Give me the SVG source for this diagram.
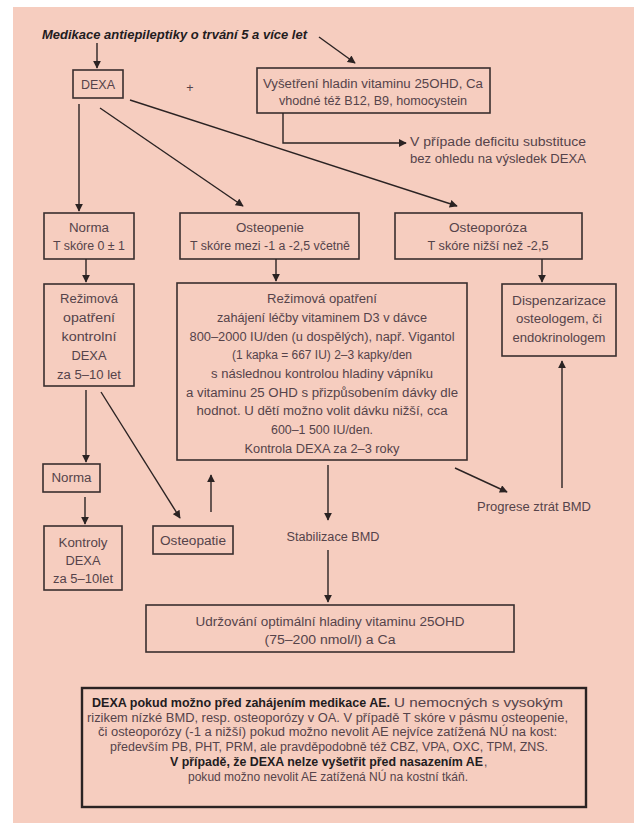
<svg xmlns="http://www.w3.org/2000/svg" width="634" height="823" viewBox="0 0 634 823">
<defs>
<marker id="ah" viewBox="0 0 10 10" refX="9" refY="5" markerWidth="8.5" markerHeight="8" markerUnits="userSpaceOnUse" orient="auto">
<path d="M0,0 L10,5 L0,10 z" fill="#2b2323"/>
</marker>
<style>
.box{fill:none;stroke:#3a2f2f;stroke-width:1.6}
.t{font-family:"Liberation Sans",Arial,sans-serif;font-size:12.5px;fill:#55434a;text-anchor:middle}
.b{font-family:"Liberation Sans",Arial,sans-serif;font-size:12px;fill:#55434a}
.bb{font-family:"Liberation Sans",Arial,sans-serif;font-size:12px;fill:#231c1e;font-weight:bold}
.c{fill:none;stroke:#2b2323;stroke-width:1.4;marker-end:url(#ah)}
</style>
</defs>
<rect width="634" height="823" fill="#ffffff"/>
<rect x="13" y="7" width="621" height="816" fill="#f6cdbf"/>

<g id="title">
<text x="42" y="39" font-family="Liberation Sans,Arial,sans-serif" font-size="13.5" font-weight="bold" font-style="italic" fill="#231c1e" textLength="265" lengthAdjust="spacingAndGlyphs">Medikace antiepileptiky o trvání 5 a více let</text>
</g>

<g id="dexa">
<rect class="box" x="73" y="70" width="50" height="28"/>
<text class="t" x="98" y="89" textLength="34" lengthAdjust="spacingAndGlyphs">DEXA</text>
</g>
<g id="plus"><text class="t" x="190" y="92" font-size="11">+</text></g>

<g id="vitamin">
<rect class="box" x="257" y="68" width="233" height="45"/>
<text class="t" x="373" y="88" textLength="220" lengthAdjust="spacingAndGlyphs">Vyšetření hladin vitaminu 25OHD, Ca</text>
<text class="t" x="373" y="105" textLength="188" lengthAdjust="spacingAndGlyphs">vhodné též B12, B9, homocystein</text>
</g>

<g id="deficit">
<text class="b" x="410" y="146" textLength="176" lengthAdjust="spacingAndGlyphs">V případe deficitu substituce</text>
<text class="b" x="410" y="163" textLength="176" lengthAdjust="spacingAndGlyphs">bez ohledu na výsledek DEXA</text>
</g>

<g id="norma">
<rect class="box" x="44" y="213" width="90" height="46"/>
<text class="t" x="89" y="232" textLength="40" lengthAdjust="spacingAndGlyphs">Norma</text>
<text class="t" x="89" y="250" textLength="72" lengthAdjust="spacingAndGlyphs">T skóre 0 ± 1</text>
</g>

<g id="osteopenie">
<rect class="box" x="180" y="213" width="179" height="46"/>
<text class="t" x="270" y="232" textLength="68" lengthAdjust="spacingAndGlyphs">Osteopenie</text>
<text class="t" x="270" y="250" textLength="160" lengthAdjust="spacingAndGlyphs">T skóre mezi -1 a -2,5 včetně</text>
</g>

<g id="osteoporoza">
<rect class="box" x="395" y="213" width="187" height="46"/>
<text class="t" x="488" y="232" textLength="78" lengthAdjust="spacingAndGlyphs">Osteoporóza</text>
<text class="t" x="488" y="250" textLength="121" lengthAdjust="spacingAndGlyphs">T skóre nižší než -2,5</text>
</g>

<g id="rezim-norma">
<rect class="box" x="44" y="284" width="90" height="102"/>
<text class="t" x="89" y="303" textLength="58" lengthAdjust="spacingAndGlyphs">Režimová</text>
<text class="t" x="89" y="322" textLength="52" lengthAdjust="spacingAndGlyphs">opatření</text>
<text class="t" x="89" y="341" textLength="55" lengthAdjust="spacingAndGlyphs">kontrolní</text>
<text class="t" x="89" y="360" textLength="35" lengthAdjust="spacingAndGlyphs">DEXA</text>
<text class="t" x="89" y="379" textLength="64" lengthAdjust="spacingAndGlyphs">za 5–10 let</text>
</g>

<g id="rezim-main">
<rect class="box" x="177" y="283" width="290" height="177"/>
<text class="t" x="322" y="303" textLength="110" lengthAdjust="spacingAndGlyphs">Režimová opatření</text>
<text class="t" x="322" y="322" textLength="210" lengthAdjust="spacingAndGlyphs">zahájení léčby vitaminem D3 v dávce</text>
<text class="t" x="322" y="341" textLength="265" lengthAdjust="spacingAndGlyphs">800–2000 IU/den (u dospělých), např. Vigantol</text>
<text class="t" x="322" y="359" textLength="180" lengthAdjust="spacingAndGlyphs">(1 kapka = 667 IU) 2–3 kapky/den</text>
<text class="t" x="322" y="378" textLength="222" lengthAdjust="spacingAndGlyphs">s následnou kontrolou hladiny vápníku</text>
<text class="t" x="322" y="397" textLength="272" lengthAdjust="spacingAndGlyphs">a vitaminu 25 OHD s přizpůsobením dávky dle</text>
<text class="t" x="322" y="415" textLength="251" lengthAdjust="spacingAndGlyphs">hodnot. U dětí možno volit dávku nižší, cca</text>
<text class="t" x="322" y="434" textLength="102" lengthAdjust="spacingAndGlyphs">600–1 500 IU/den.</text>
<text class="t" x="322" y="453" textLength="155" lengthAdjust="spacingAndGlyphs">Kontrola DEXA za 2–3 roky</text>
</g>

<g id="dispenzarizace">
<rect class="box" x="502" y="284" width="114" height="72"/>
<text class="t" x="559" y="305" textLength="94" lengthAdjust="spacingAndGlyphs">Dispenzarizace</text>
<text class="t" x="559" y="323" textLength="86" lengthAdjust="spacingAndGlyphs">osteologem, či</text>
<text class="t" x="559" y="342" textLength="93" lengthAdjust="spacingAndGlyphs">endokrinologem</text>
</g>

<g id="norma2">
<rect class="box" x="43" y="464" width="57" height="28"/>
<text class="t" x="71.5" y="482" textLength="40" lengthAdjust="spacingAndGlyphs">Norma</text>
</g>

<g id="kontroly">
<rect class="box" x="44" y="526" width="78" height="64"/>
<text class="t" x="83" y="547" textLength="49" lengthAdjust="spacingAndGlyphs">Kontroly</text>
<text class="t" x="83" y="565" textLength="35" lengthAdjust="spacingAndGlyphs">DEXA</text>
<text class="t" x="83" y="583" textLength="60" lengthAdjust="spacingAndGlyphs">za 5–10let</text>
</g>

<g id="osteopatie">
<rect class="box" x="153" y="526" width="80" height="28"/>
<text class="t" x="193" y="545" textLength="66" lengthAdjust="spacingAndGlyphs">Osteopatie</text>
</g>

<g id="stabilizace">
<text class="t" x="333" y="541" textLength="93" lengthAdjust="spacingAndGlyphs">Stabilizace BMD</text>
</g>

<g id="progrese">
<text class="t" x="534" y="511" textLength="114" lengthAdjust="spacingAndGlyphs">Progrese ztrát BMD</text>
</g>

<g id="udrzovani">
<rect class="box" x="146" y="605" width="368" height="47"/>
<text class="t" x="330" y="626" textLength="269" lengthAdjust="spacingAndGlyphs">Udržování optimální hladiny vitaminu 25OHD</text>
<text class="t" x="330" y="644" textLength="131" lengthAdjust="spacingAndGlyphs">(75–200 nmol/l) a Ca</text>
</g>

<g id="note">
<rect x="82" y="688" width="504" height="119" fill="none" stroke="#2b2323" stroke-width="2.4"/>
<text class="bb" x="92" y="707" textLength="298" lengthAdjust="spacingAndGlyphs">DEXA pokud možno před zahájením medikace AE.</text>
<text class="b" x="394" y="707" textLength="169" lengthAdjust="spacingAndGlyphs">U nemocných s vysokým</text>
<text class="b" x="87" y="722" textLength="481" lengthAdjust="spacingAndGlyphs">rizikem nízké BMD, resp. osteoporózy v OA. V případě T skóre v pásmu osteopenie,</text>
<text class="b" x="98" y="736" textLength="459" lengthAdjust="spacingAndGlyphs">či osteoporózy (-1 a nižší) pokud možno nevolit AE nejvíce zatížená NÚ na kost:</text>
<text class="b" x="110" y="751" textLength="438" lengthAdjust="spacingAndGlyphs">především PB, PHT, PRM, ale pravděpodobně též CBZ, VPA, OXC, TPM, ZNS.</text>
<text class="bb" x="170" y="766" textLength="313" lengthAdjust="spacingAndGlyphs">V případě, že DEXA nelze vyšetřit před nasazením AE</text>
<text class="b" x="484" y="766">,</text>
<text class="b" x="188" y="781" textLength="280" lengthAdjust="spacingAndGlyphs">pokud možno nevolit AE zatížená NÚ na kostní tkáň.</text>
</g>

<g id="connectors">
<line class="c" x1="97" y1="43" x2="97" y2="68"/>
<line class="c" x1="319" y1="37" x2="355" y2="63"/>
<polyline class="c" points="283,113 283,143 406,143"/>
<line class="c" x1="79" y1="104" x2="79" y2="211"/>
<line class="c" x1="100" y1="108" x2="243" y2="206"/>
<line class="c" x1="130" y1="100" x2="457" y2="206"/>
<line class="c" x1="86" y1="259" x2="86" y2="282"/>
<line class="c" x1="276" y1="259" x2="276" y2="281"/>
<line class="c" x1="542" y1="259" x2="542" y2="282"/>
<line class="c" x1="86" y1="390" x2="86" y2="462"/>
<line class="c" x1="101" y1="392" x2="180" y2="518"/>
<line class="c" x1="85" y1="497" x2="85" y2="524"/>
<line class="c" x1="211" y1="512" x2="211" y2="475"/>
<line class="c" x1="328" y1="465" x2="328" y2="520"/>
<line class="c" x1="455" y1="468" x2="507" y2="492"/>
<line class="c" x1="562" y1="488" x2="562" y2="361"/>
<line class="c" x1="328" y1="550" x2="328" y2="602"/>
</g>
</svg>
